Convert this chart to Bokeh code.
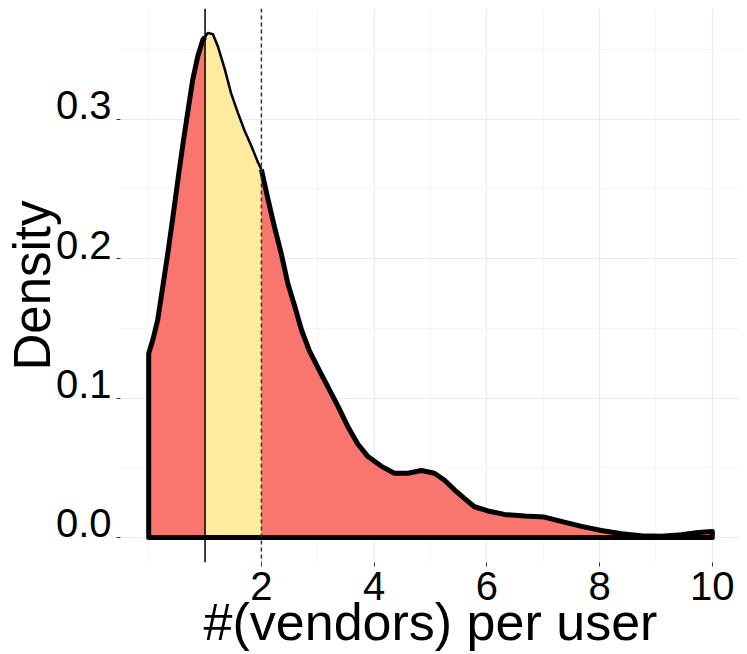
from bokeh.plotting import figure
from bokeh.models import (FixedTicker, Span, Range1d, LinearAxis,
                          NumeralTickFormatter, ColumnDataSource,
                          CustomJSTickFormatter)
from bokeh.embed import file_html
from bokeh.resources import INLINE

# ---- data ----
vendors = [0.0, 0.075, 0.16, 0.25, 0.34, 0.43, 0.52, 0.61, 0.70, 0.78,
           0.87, 0.96, 1.0, 1.05, 1.14, 1.23, 1.35, 1.46, 1.58, 1.70,
           1.82, 1.94, 2.0, 2.12, 2.23, 2.35, 2.47, 2.59, 2.71, 2.85,
           3.0, 3.18, 3.36, 3.54, 3.71, 3.89, 4.13, 4.36, 4.60, 4.84,
           5.07, 5.25, 5.43, 5.60, 5.78, 6.02, 6.31, 6.67, 7.02, 7.32,
           7.68, 8.03, 8.39, 8.74, 9.10, 9.45, 9.75, 10.0]
density = [0.132, 0.142, 0.156, 0.180, 0.204, 0.230, 0.257, 0.283, 0.307, 0.328,
           0.345, 0.357, 0.359, 0.362, 0.361, 0.352, 0.336, 0.319, 0.305, 0.292,
           0.281, 0.269, 0.264, 0.242, 0.223, 0.204, 0.182, 0.166, 0.149, 0.134,
           0.122, 0.108, 0.094, 0.079, 0.067, 0.058, 0.051, 0.046, 0.046, 0.048,
           0.046, 0.041, 0.034, 0.028, 0.022, 0.019, 0.0165, 0.0153, 0.0146, 0.0115,
           0.0079, 0.005, 0.0027, 0.0012, 0.0009, 0.0019, 0.0036, 0.0043]
band_lo = 1.0
band_hi = 2.0
x_ticks = [2, 4, 6, 8, 10]
x_minor = [0, 1, 3, 5, 7, 9]
y_ticks = [0.0, 0.1, 0.2, 0.3]
y_minor = [0.05, 0.15, 0.25, 0.35]
x_title = "#(vendors) per user"
y_title = "Density"

FONT = "Liberation Sans"
Y0, Y1 = -0.018, 0.3795
FRAME_H = 554
LABEL_LIFT_PX = 14  # ggplot draws these y labels sitting on their tick

p = figure(width=747, height=654, title=None,
           x_range=Range1d(-0.5, 10.5), y_range=Range1d(Y0, Y1),
           output_backend="svg", toolbar_location=None,
           min_border_left=119, min_border_right=7, min_border_top=8,
           min_border_bottom=92)
p.outline_line_color = None
p.background_fill_color = "white"
p.border_fill_color = "white"

# grid
for g in (p.xgrid, p.ygrid):
    g.grid_line_color = "#EBEBEB"
    g.grid_line_width = 1.2
    g.minor_grid_line_color = "#F5F5F5"
    g.minor_grid_line_width = 1

# axes
p.xaxis.ticker = FixedTicker(ticks=x_ticks, minor_ticks=x_minor)
p.yaxis.ticker = FixedTicker(ticks=y_ticks, minor_ticks=y_minor)
for ax in (p.xaxis, p.yaxis):
    ax.axis_line_color = None
    ax.major_tick_line_color = "#333333"
    ax.major_tick_line_width = 1
    ax.major_tick_out = 4
    ax.major_tick_in = 0
    ax.minor_tick_out = 0
    ax.minor_tick_in = 0
p.xaxis.major_label_text_font = FONT
p.xaxis.major_label_text_font_size = "40px"
p.xaxis.major_label_text_color = "black"
p.xaxis.major_label_standoff = 5
p.xaxis.axis_label = x_title
p.xaxis.axis_label_text_font = FONT
p.xaxis.axis_label_text_font_size = "52px"
p.xaxis.axis_label_text_font_style = "normal"
p.xaxis.axis_label_text_color = "black"
p.xaxis.axis_label_standoff = -10

p.yaxis.formatter = CustomJSTickFormatter(code="return ''")
p.yaxis.major_label_standoff = 0

# label axis for y (labels sit on top of their tick, as in the reference)
shift = LABEL_LIFT_PX * (Y1 - Y0) / FRAME_H
p.extra_y_ranges = {"lab": Range1d(Y0 - shift, Y1 - shift)}
lab_axis = LinearAxis(y_range_name="lab",
                      ticker=FixedTicker(ticks=y_ticks, minor_ticks=[]),
                      formatter=NumeralTickFormatter(format="0.0"),
                      axis_line_color=None, major_tick_line_color=None,
                      major_tick_out=0, major_tick_in=0,
                      minor_tick_out=0, minor_tick_in=0,
                      major_label_standoff=5,
                      major_label_text_font=FONT,
                      major_label_text_font_size="40px",
                      major_label_text_color="black",
                      axis_label=y_title,
                      axis_label_text_font=FONT,
                      axis_label_text_font_size="51px",
                      axis_label_text_font_style="normal",
                      axis_label_text_color="black",
                      axis_label_standoff=-8)
p.add_layout(lab_axis, "left")

# areas
src = ColumnDataSource(dict(x=vendors, y=density))
p.varea(x="x", y1=0, y2="y", source=src, fill_color="#F8766D")

band_x = [v for v in vendors if band_lo <= v <= band_hi]
band_y = [d for v, d in zip(vendors, density) if band_lo <= v <= band_hi]
p.varea(x=band_x, y1=0, y2=band_y, fill_color="#FFEB9E")

# outline: right curve -> bottom -> left curve
left_x = [v for v in vendors if v <= band_lo]
left_y = [d for v, d in zip(vendors, density) if v <= band_lo]
right_x = [v for v in vendors if v >= band_hi]
right_y = [d for v, d in zip(vendors, density) if v >= band_hi]
ox = right_x + [right_x[-1], left_x[0]] + left_x
oy = right_y + [0, 0] + left_y
p.line(ox, oy, line_width=5, line_color="black", line_join="round")
p.line(band_x, band_y, line_width=2.5, line_color="black", line_join="round")

p.add_layout(Span(location=band_lo, dimension="height", line_color="black",
                  line_width=1.5))
p.add_layout(Span(location=band_hi, dimension="height", line_color="#333333",
                  line_width=1.5, line_dash="4 3"))

open("out.html", "w").write(file_html(p, INLINE))
